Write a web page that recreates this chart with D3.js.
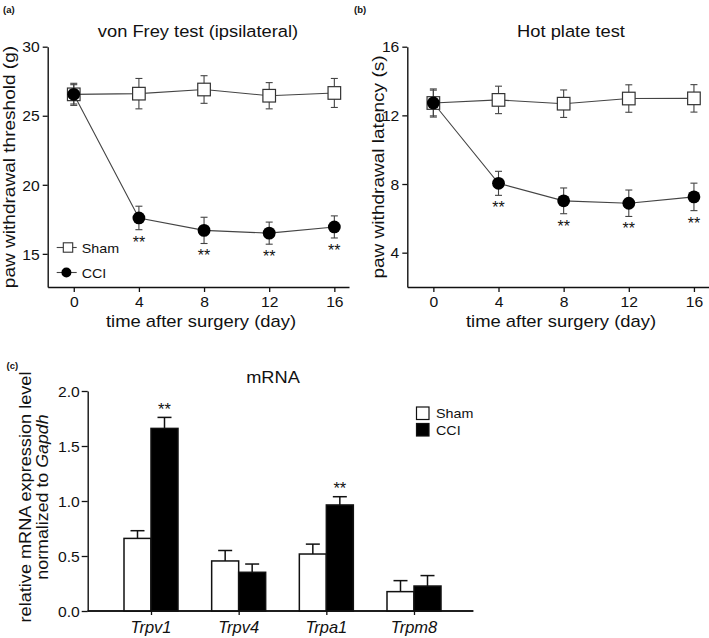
<!DOCTYPE html>
<html>
<head>
<meta charset="utf-8">
<script src="https://cdnjs.cloudflare.com/ajax/libs/d3/7.8.5/d3.min.js"></script>
<style>
  html, body { margin: 0; padding: 0; background: #fff; }
  svg { display: block; }
</style>
</head>
<body>
<svg id="chart" width="709" height="638"></svg>
<script>
// ---------------- data ----------------
const days = [0, 4, 8, 12, 16];
const vfShamMean = [26.55, 26.6, 26.9, 26.45, 26.65];
const vfShamErr  = [0.8, 1.1, 1.0, 0.95, 1.05];
const vfCciMean  = [26.55, 17.6, 16.7, 16.5, 16.95];
const vfCciErr   = [0.7, 0.85, 0.95, 0.8, 0.8];
const hpShamMean = [12.72, 12.9, 12.68, 12.98, 12.99];
const hpShamErr  = [0.82, 0.8, 0.8, 0.8, 0.8];
const hpCciMean  = [12.72, 8.04, 7.02, 6.88, 7.25];
const hpCciErr   = [0.75, 0.7, 0.75, 0.77, 0.8];
const sigDays = [4, 8, 12, 16];
const vfTicks = [15, 20, 25, 30];
const hpTicks = [4, 8, 12, 16];

const genes = ["Trpv1", "Trpv4", "Trpa1", "Trpm8"];
const mrnaSham    = [0.66, 0.455, 0.518, 0.176];
const mrnaShamErr = [0.07, 0.095, 0.09, 0.1];
const mrnaCci     = [1.66, 0.352, 0.964, 0.227];
const mrnaCciErr  = [0.1, 0.075, 0.075, 0.095];
const sigGenes = ["Trpv1", "Trpa1"];
const mrnaTicks = [0, 0.5, 1.0, 1.5, 2.0];

// ---------------- helpers ----------------
const FONT = '"Liberation Sans", Arial, Helvetica, sans-serif';
const INK = "#111";
const svg = d3.select("#chart");

function label(g, str, x, y, o = {}) {
  const size = o.size || 14, k = o.k || 1, r = o.rotate || 0;
  const t = g.append("text")
    .attr("transform", `translate(${x},${y}) rotate(${r}) scale(${k},1)`)
    .attr("font-family", FONT)
    .attr("font-size", size)
    .attr("font-weight", o.weight || "normal")
    .attr("font-style", o.italic ? "italic" : "normal")
    .attr("text-anchor", o.anchor || "middle")
    .attr("fill", o.fill || INK);
  if (Array.isArray(str)) {
    str.forEach(p => t.append("tspan").attr("font-style", p.italic ? "italic" : null).text(p.t));
  } else t.text(str);
  return t;
}

function styleAxis(ax, k, size, side, off) {
  ax.select(".domain").attr("stroke", INK).attr("stroke-width", 1.4);
  ax.selectAll(".tick line").attr("stroke", INK).attr("stroke-width", 1.3);
  ax.selectAll(".tick text")
    .attr("font-family", FONT).attr("font-size", size).attr("fill", INK)
    .each(function () {
      const t = d3.select(this);
      if (side === "left") {
        t.attr("x", 0).attr("dy", "0.36em")
         .attr("transform", `translate(${-off},0) scale(${k},1)`);
      } else {
        t.attr("y", 0).attr("dy", 0)
         .attr("transform", `translate(0,${off}) scale(${k},1)`);
      }
    });
}

// ---------------- line panels ----------------
function linePanel(cfg) {
  const g = svg.append("g");
  const x = d3.scaleLinear().domain([-1.6, 16.9]).range([cfg.left, cfg.left + 301.3]);
  const y = d3.scaleLinear().domain(cfg.yDomain).range([287, 46.7]);

  const ax = g.append("g").attr("transform", `translate(0,${y.range()[0]})`)
    .call(d3.axisBottom(x).tickValues(days).tickSize(5).tickSizeOuter(0));
  styleAxis(ax, 1.08, 14.5, "bottom", 19.5);
  const ay = g.append("g").attr("transform", `translate(${x.range()[0]},0)`)
    .call(d3.axisLeft(y).tickValues(cfg.ticks).tickSize(5).tickSizeOuter(0));
  styleAxis(ay, 1.08, 14.5, "left", 8);

  const series = [
    { mean: cfg.sham, err: cfg.shamErr, type: "sham" },
    { mean: cfg.cci, err: cfg.cciErr, type: "cci" }
  ];
  const line = d3.line().x((d, i) => x(days[i])).y(d => y(d));

  series.forEach(s => {
    const eb = g.append("g").attr("stroke", "#444").attr("stroke-width", 1.1);
    s.mean.forEach((m, i) => {
      const cx = x(days[i]);
      eb.append("line").attr("x1", cx).attr("x2", cx).attr("y1", y(m - s.err[i])).attr("y2", y(m + s.err[i]));
      [m - s.err[i], m + s.err[i]].forEach(v =>
        eb.append("line").attr("x1", cx - 3.5).attr("x2", cx + 3.5).attr("y1", y(v)).attr("y2", y(v)));
    });
  });
  series.forEach(s => {
    g.append("path").datum(s.mean).attr("d", line)
      .attr("fill", "none").attr("stroke", "#444").attr("stroke-width", 1.1);
  });
  g.selectAll(null).data(cfg.sham).join("rect")
    .attr("x", (d, i) => x(days[i]) - 6.3).attr("y", d => y(d) - 6.3)
    .attr("width", 12.6).attr("height", 12.6)
    .attr("fill", "#fff").attr("stroke", "#333").attr("stroke-width", 1.2);
  g.selectAll(null).data(cfg.cci).join("circle")
    .attr("cx", (d, i) => x(days[i])).attr("cy", d => y(d)).attr("r", 6.4)
    .attr("fill", "#000");

  sigDays.forEach(dd => {
    const i = days.indexOf(dd);
    label(g, "**", x(dd), y(cfg.cci[i] - cfg.cciErr[i]) + 18, { size: 16 });
  });

  label(g, cfg.title, cfg.titleX, 37, { size: 16.5, k: 1.11 });
  label(g, "time after surgery (day)", cfg.xLabelX, 327, { size: 16, k: 1.15 });
  label(g, cfg.yLabel, cfg.yLabelX, 167, { size: 16, k: 1.19, rotate: -90 });
  label(g, cfg.tag, cfg.tagX, 13, { size: 9.5, weight: "bold", anchor: "start" });
  return { g, x, y };
}

const pa = linePanel({
  left: 47.7, yDomain: [12.6, 30], ticks: vfTicks,
  sham: vfShamMean, shamErr: vfShamErr, cci: vfCciMean, cciErr: vfCciErr,
  title: "von Frey test (ipsilateral)", titleX: 198, xLabelX: 201,
  yLabel: "paw withdrawal threshold (g)", yLabelX: 14.5, tag: "(a)", tagX: 3
});
linePanel({
  left: 407.3, yDomain: [2, 16], ticks: hpTicks,
  sham: hpShamMean, shamErr: hpShamErr, cci: hpCciMean, cciErr: hpCciErr,
  title: "Hot plate test", titleX: 571, xLabelX: 561,
  yLabel: "paw withdrawal latency (s)", yLabelX: 384, tag: "(b)", tagX: 354
});

// legend (a)
{
  const g = pa.g;
  const lg = g.append("g");
  lg.append("line").attr("x1", 56.7).attr("x2", 76.7).attr("y1", 247.5).attr("y2", 247.5)
    .attr("stroke", "#444").attr("stroke-width", 1.1);
  lg.append("rect").attr("x", 63.3).attr("y", 242.8).attr("width", 9.4).attr("height", 9.4)
    .attr("fill", "#fff").attr("stroke", "#333").attr("stroke-width", 1.1);
  label(lg, "Sham", 81.7, 252.5, { size: 13.5, k: 1.06, anchor: "start" });
  lg.append("line").attr("x1", 56.7).attr("x2", 76.7).attr("y1", 272.5).attr("y2", 272.5)
    .attr("stroke", "#444").attr("stroke-width", 1.1);
  lg.append("circle").attr("cx", 66.4).attr("cy", 272.5).attr("r", 5).attr("fill", "#000");
  label(lg, "CCI", 81.7, 277.5, { size: 13.5, k: 1.06, anchor: "start" });
}

// ---------------- bar panel (c) ----------------
{
  const g = svg.append("g");
  const x = d3.scalePoint().domain(genes).range([151, 414]);
  const y = d3.scaleLinear().domain([0, 2]).range([611, 391]);
  const bw = 27;

  const ay = g.append("g").attr("transform", "translate(87.7,0)")
    .call(d3.axisLeft(y).tickValues(mrnaTicks).tickFormat(d3.format(".1f")).tickSize(6).tickSizeOuter(0));
  styleAxis(ay, 1.08, 14.5, "left", 8);

  const ax = g.append("g").attr("transform", `translate(0,${y(0)})`)
    .call(d3.axisBottom(x).tickSize(4).tickSizeOuter(0).tickFormat(""));
  ax.select(".domain").attr("d", `M87.7,0H473.3`);
  styleAxis(ax, 1, 13, "bottom", 20);

  genes.forEach((gn, i) => {
    const cx = x(gn);
    const groups = [
      { v: mrnaSham[i], e: mrnaShamErr[i], x0: cx - bw, fill: "#fff" },
      { v: mrnaCci[i], e: mrnaCciErr[i], x0: cx, fill: "#000" }
    ];
    groups.forEach(b => {
      const mid = b.x0 + bw / 2;
      g.append("line").attr("x1", mid).attr("x2", mid).attr("y1", y(b.v)).attr("y2", y(b.v + b.e))
        .attr("stroke", INK).attr("stroke-width", 1.5);
      g.append("line").attr("x1", mid - 7).attr("x2", mid + 7).attr("y1", y(b.v + b.e)).attr("y2", y(b.v + b.e))
        .attr("stroke", INK).attr("stroke-width", 1.5);
      g.append("rect").attr("x", b.x0).attr("y", y(b.v)).attr("width", bw).attr("height", y(0) - y(b.v))
        .attr("fill", b.fill).attr("stroke", INK).attr("stroke-width", 1.5);
    });
    label(g, gn, cx, 632.5, { size: 16.5, italic: true });
    if (sigGenes.includes(gn)) {
      label(g, "**", cx + bw / 2, y(mrnaCci[i] + mrnaCciErr[i]) - 2.5, { size: 16.5 });
    }
  });
  // re-draw x axis domain on top of bars
  g.append("line").attr("x1", 87.7).attr("x2", 473.3).attr("y1", y(0)).attr("y2", y(0))
    .attr("stroke", INK).attr("stroke-width", 1.4);

  label(g, "mRNA", 273, 383, { size: 16, k: 1.14 });
  label(g, "relative mRNA expression level", 31, 497, { size: 16.5, k: 1.1, rotate: -90 });
  label(g, [{ t: "normalized to " }, { t: "Gapdh", italic: true }], 48, 497, { size: 16.5, k: 1.08, rotate: -90 });
  label(g, "(c)", 6.5, 369, { size: 9.5, weight: "bold", anchor: "start" });

  // legend (c)
  const lg = g.append("g");
  lg.append("rect").attr("x", 416.5).attr("y", 407).attr("width", 12.5).attr("height", 12.5)
    .attr("fill", "#fff").attr("stroke", INK).attr("stroke-width", 1.2);
  lg.append("rect").attr("x", 416.5).attr("y", 423.5).attr("width", 12.5).attr("height", 12.5)
    .attr("fill", "#000").attr("stroke", INK).attr("stroke-width", 1.2);
  label(lg, "Sham", 436, 417.5, { size: 13.5, k: 1.06, anchor: "start" });
  label(lg, "CCI", 436, 434.5, { size: 13.5, k: 1.06, anchor: "start" });
}
</script>
</body>
</html>
